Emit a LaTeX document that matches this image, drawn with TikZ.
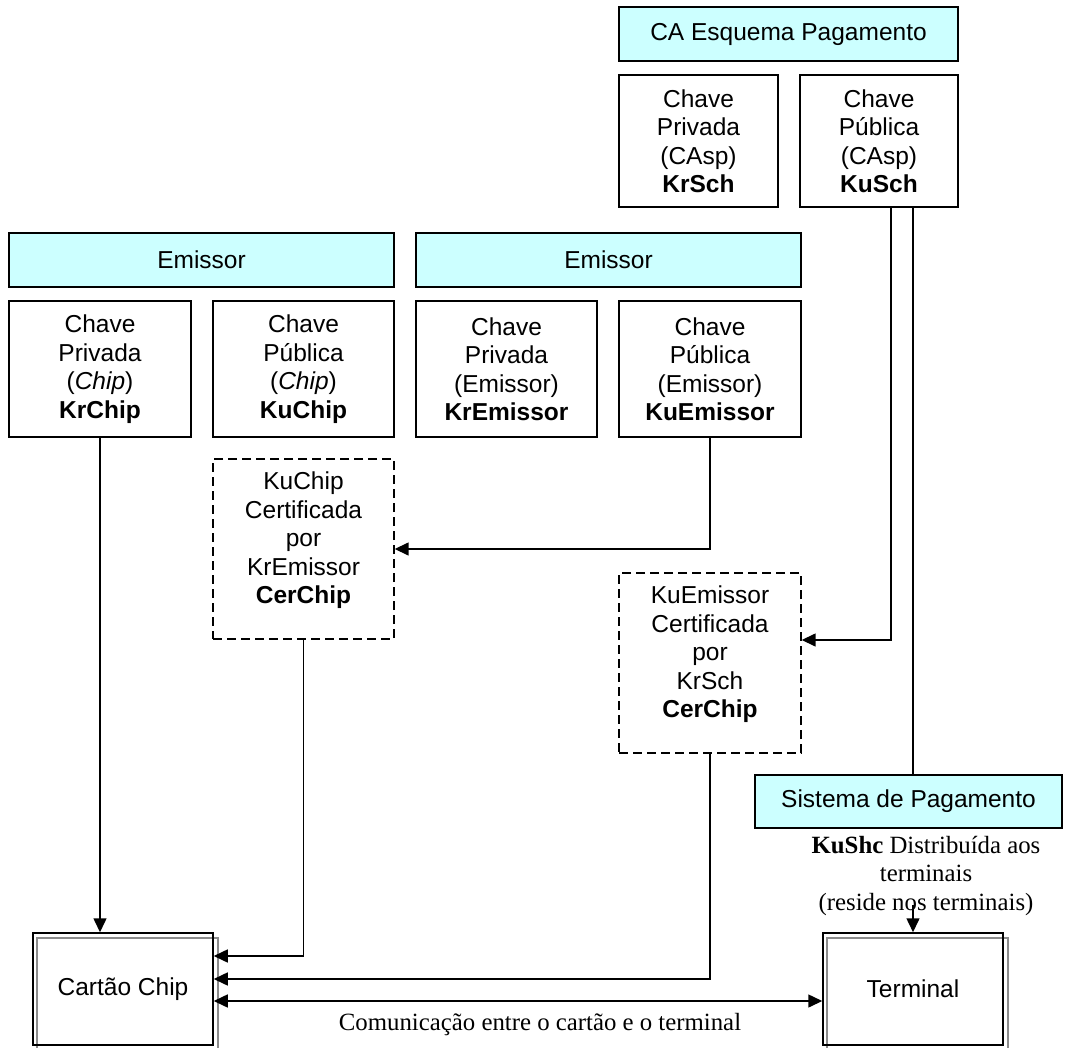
\documentclass[tikz,border=0pt]{standalone}
\usepackage{fontspec}
\setmainfont{Liberation Sans}
\newfontfamily\timesfont{Liberation Serif}
\usetikzlibrary{arrows.meta}
\definecolor{headfill}{HTML}{CCFFFF}
\definecolor{shadowline}{HTML}{8C8C8C}
\begin{document}
\begin{tikzpicture}[x=1pt,y=-1pt,
  every node/.style={font=\fontsize{24.5}{28.5}\selectfont, inner sep=0pt},
  header/.style={draw=black, line width=1.5pt, fill=headfill},
  keybox/.style={draw=black, line width=1.4pt, align=center},
  certbox/.style={draw=black, line width=1.4pt, dash pattern=on 9pt off 5pt, align=center},
  devbox/.style={draw=black, line width=1.5pt},
  note/.style={font=\timesfont\fontsize{24.8}{28.5}\selectfont, align=center},
  link/.style={line width=1.5pt},
  tip/.style={-{Triangle[length=14pt,width=13pt]}},
  bothtips/.style={{Triangle[length=14pt,width=13pt]}-{Triangle[length=14pt,width=13pt]}},
]
\useasboundingbox (0,0) rectangle (1065,1048);

% payment scheme certification authority
\node[header, minimum width=339, minimum height=54] (ca) at (788.5,34) {CA Esquema Pagamento};
\node[keybox, minimum width=159, minimum height=132] (krsch) at (698.5,141)
  {Chave\\Privada\\(CAsp)\\\textbf{KrSch}};
\node[keybox, minimum width=158, minimum height=132] (kusch) at (879,141)
  {Chave\\Pública\\(CAsp)\\\textbf{KuSch}};

% issuer keys (chip side)
\node[header, minimum width=385, minimum height=54] (emi1) at (201.5,260) {Emissor};
\node[keybox, minimum width=182, minimum height=136] (krchip) at (100,369)
  {Chave\\Privada\\(\textit{Chip})\\\textbf{KrChip}};
\node[keybox, minimum width=181, minimum height=136] (kuchip) at (303.5,369)
  {Chave\\Pública\\(\textit{Chip})\\\textbf{KuChip}};

% issuer keys (issuer side)
\node[header, minimum width=385, minimum height=54] (emi2) at (608.5,260) {Emissor};
\node[keybox, minimum width=181, minimum height=136] (kremissor) at (506.5,369)
  {Chave\\Privada\\(Emissor)\\\textbf{KrEmissor}};
\node[keybox, minimum width=182, minimum height=136] (kuemissor) at (710,369)
  {Chave\\Pública\\(Emissor)\\\textbf{KuEmissor}};

% certificates
\node[certbox, minimum width=181, minimum height=180] (certchip) at (303.5,549)
  {KuChip\\Certificada\\por\\KrEmissor\\\textbf{CerChip}\\[-6pt]};
\node[certbox, minimum width=182, minimum height=180] (certemissor) at (710,663)
  {KuEmissor\\Certificada\\por\\KrSch\\\textbf{CerChip}\\[-6pt]};

% payment system
\node[header, minimum width=307, minimum height=53] (sistema) at (908.5,801.5) {Sistema de Pagamento};
\node[note] (dist) at (926,876) {\textbf{KuShc} Distribuída aos\\terminais\\(reside nos terminais)};

% devices
\draw[shadowline, line width=1.3pt] (37,938) rectangle (218,1052);
\draw[shadowline, line width=1.3pt] (827,938) rectangle (1008,1052);
\node[devbox, minimum width=180, minimum height=112] (cartao) at (123,989) {Cartão Chip};
\node[devbox, minimum width=180, minimum height=112] (terminal) at (913,989) {Terminal};
\node[note] (com) at (540,1025) {Comunicação entre o cartão e o terminal};

% connectors
\draw[link, tip] (krchip.south) -- (krchip.south |- cartao.north);
\draw[link, tip] (kuemissor.south) |- (certchip.east);
\draw[link, tip] ([xshift=12pt]kusch.south) |- ([yshift=23pt]certemissor.east);
\draw[link] ([xshift=34pt]kusch.south) -- ([xshift=34pt]kusch.south |- sistema.north);
\draw[link, tip] (certchip.south) |- ([yshift=33pt]cartao.east);
\draw[link, tip] (certemissor.south) |- ([yshift=10pt]cartao.east);
\draw[link, bothtips] ([yshift=-12pt]cartao.east) -- ([yshift=-12pt]terminal.west);
\coordinate (distend) at (913,905);
\draw[link, tip] (distend) -- (terminal.north);
\end{tikzpicture}
\end{document}
